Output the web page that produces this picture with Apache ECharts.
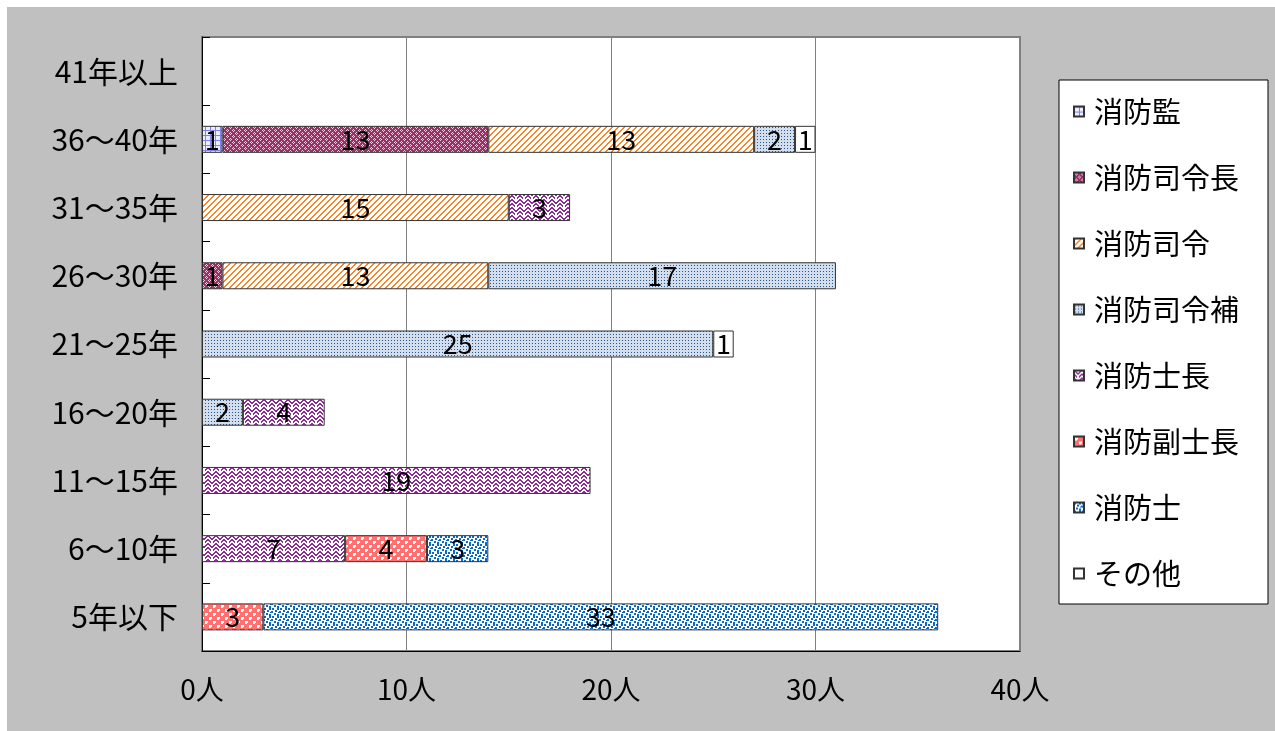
<!DOCTYPE html>
<html>
<head>
<meta charset="utf-8">
<script src="https://cdn.jsdelivr.net/npm/echarts@6/dist/echarts.min.js"></script>
<style>
  html, body { margin: 0; padding: 0; background: #fff; }
  #chart { width: 1275px; height: 731px; }
</style>
</head>
<body>
<div id="chart"></div>
<script>
// categories, bottom to top
const categories = ['5年以下', '6～10年', '11～15年', '16～20年', '21～25年', '26～30年', '31～35年', '36～40年', '41年以上']
const seriesNames = ['消防監', '消防司令長', '消防司令', '消防司令補', '消防士長', '消防副士長', '消防士', 'その他']

const shobokan = [null, null, null, null, null, null, null, 1, null]
const shireicho = [null, null, null, null, null, 1, null, 13, null]
const shirei = [null, null, null, null, null, 13, 15, 13, null]
const shireiho = [null, null, null, 2, 25, 17, null, 2, null]
const shicho = [null, 7, 19, 4, null, null, 3, null, null]
const fukushicho = [3, 4, null, null, null, null, null, null, null]
const shi = [33, 3, null, null, null, null, null, null, null]
const others = [null, null, null, null, 1, null, null, 1, null]
const seriesData = [shobokan, shireicho, shirei, shireiho, shicho, fukushicho, shi, others]

const xTicks = [0, 10, 20, 30, 40]

// small pixel tiles to mimic the spreadsheet fill patterns
function tile (size, bg, fg, isOn) {
  const c = document.createElement('canvas')
  c.width = size
  c.height = size
  const ctx = c.getContext('2d')
  ctx.fillStyle = bg
  ctx.fillRect(0, 0, size, size)
  ctx.fillStyle = fg
  for (let y = 0; y < size; y++) {
    for (let x = 0; x < size; x++) {
      if (isOn(x, y)) ctx.fillRect(x, y, 1, 1)
    }
  }
  return { image: c, repeat: 'repeat' }
}
function fromRows (rows) {
  return (x, y) => rows[y][x] === 'X'
}

const patterns = [
  // grid
  tile(5, '#eceeff', '#8080f0', (x, y) => x === 0 || y === 0),
  // plaid on dark magenta
  tile(6, '#993366', '#f0d0e0', fromRows([
    '..X...',
    '.X.X..',
    '..X...',
    '.....X',
    'X...X.',
    '.....X'
  ])),
  // wide diagonal stripes
  tile(6, '#ffffff', '#ff8320', (x, y) => (x + y) % 6 < 2),
  // small dots
  tile(3, '#d2dded', '#2a5689', (x, y) => x === 1 && y === 1),
  // weave
  tile(8, '#ffffff', '#8e2c98', fromRows([
    'XX....XX',
    '.XX..XX.',
    '..XXXX..',
    'X..XX..X',
    'XX....XX',
    '.XX..XX.',
    '..X..X..',
    'X......X'
  ])),
  // spheres
  tile(8, '#ff7070', '#ffffff', fromRows([
    '........',
    '.XXX....',
    '.XXX....',
    '.XX.....',
    '........',
    '.....XXX',
    '.....XXX',
    '.....XX.'
  ])),
  // confetti
  tile(8, '#ffffff', '#0a68c8', fromRows([
    'XX...XX.',
    'XX...XX.',
    '...XX...',
    'X..XX..X',
    'X.....XX',
    '..XX....',
    '..XX.XX.',
    '.....XX.'
  ])),
  '#ffffff'
]

const chart = echarts.init(document.getElementById('chart'))

const series = seriesNames.map((name, i) => ({
  name: name,
  type: 'bar',
  stack: 'total',
  barWidth: 27,
  data: seriesData[i],
  itemStyle: {
    color: patterns[i],
    borderColor: '#333',
    borderWidth: 1
  },
  label: {
    show: true,
    position: 'inside',
    color: '#000',
    fontSize: 27,
    fontFamily: 'Noto Sans CJK JP',
    textBorderWidth: 0
  },
  emphasis: { disabled: true }
}))

chart.setOption({
  animation: false,
  textStyle: { fontFamily: 'Noto Sans CJK JP' },
  graphic: [{
    type: 'rect',
    z: -10,
    silent: true,
    shape: { x: 7, y: 7, width: 1268, height: 724 },
    style: { fill: '#c0c0c0' }
  }],
  grid: {
    left: 202,
    top: 37,
    width: 818,
    height: 614,
    show: true,
    backgroundColor: '#ffffff',
    borderColor: '#808080',
    borderWidth: 2
  },
  legend: {
    orient: 'vertical',
    left: 1059,
    top: 80,
    backgroundColor: '#ffffff',
    borderColor: '#000',
    borderWidth: 1,
    padding: [17, 29, 16, 14],
    itemWidth: 10,
    itemHeight: 10,
    itemGap: 37,
    icon: 'rect',
    data: seriesNames,
    textStyle: {
      fontSize: 29,
      color: '#000',
      fontFamily: 'Noto Sans CJK JP',
      padding: [0, 0, 0, 5]
    }
  },
  xAxis: {
    type: 'value',
    min: xTicks[0],
    max: xTicks[xTicks.length - 1],
    interval: 10,
    axisLine: { show: true, lineStyle: { color: '#000', width: 1 } },
    axisTick: { show: false },
    splitLine: { show: true, lineStyle: { color: '#808080', width: 1 } },
    axisLabel: {
      formatter: '{value}人',
      fontSize: 28,
      color: '#000',
      margin: 24
    }
  },
  yAxis: {
    type: 'category',
    data: categories,
    axisLine: { show: true, lineStyle: { color: '#000', width: 1 } },
    axisTick: { show: true, inside: true, length: 8, lineStyle: { color: '#000' } },
    axisLabel: {
      fontSize: 30,
      color: '#000',
      margin: 24
    }
  },
  series: series
})
</script>
</body>
</html>
